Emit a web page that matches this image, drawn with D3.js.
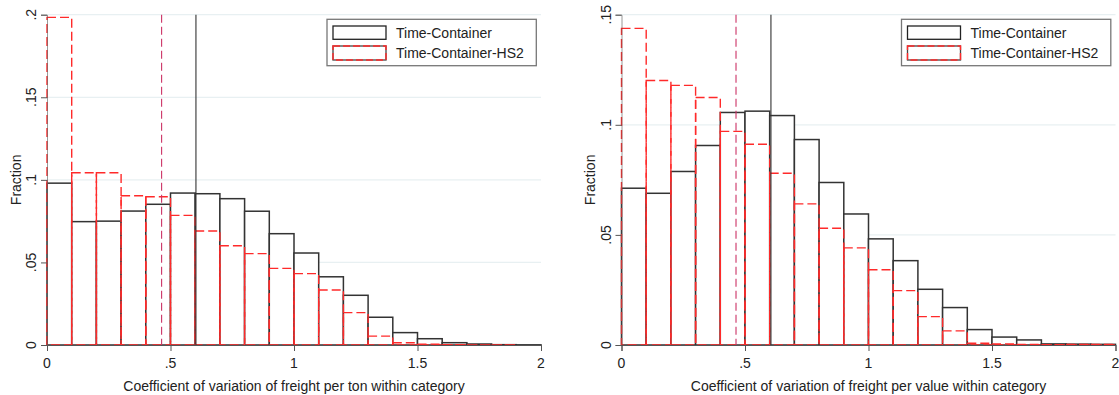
<!DOCTYPE html>
<html>
<head>
<meta charset="utf-8">
<script src="https://cdnjs.cloudflare.com/ajax/libs/d3/7.8.5/d3.min.js"></script>
<style>
  body { margin: 0; background: #fff; }
  svg { display: block; font-family: "Liberation Sans", Arial, sans-serif; }
</style>
</head>
<body>
<svg id="chart" width="1119" height="395"></svg>
<script>
// histogram bins (start of each 0.1-wide bin)
const binStarts = [0, 0.1, 0.2, 0.3, 0.4, 0.5, 0.6, 0.7, 0.8, 0.9, 1.0, 1.1, 1.2, 1.3, 1.4, 1.5, 1.6, 1.7, 1.8, 1.9];
const binWidth = 0.1;

// freight per ton
const tonContainer = [0.098, 0.0747, 0.075, 0.0811, 0.0852, 0.092, 0.0916, 0.0886, 0.081, 0.0674, 0.0557, 0.0413, 0.0301, 0.0168, 0.0075, 0.0038, 0.0014, 0.0006, 0.0002, 0.0001];
const tonHS2 = [0.1984, 0.1043, 0.1043, 0.0904, 0.0898, 0.0785, 0.069, 0.0601, 0.0553, 0.0464, 0.0432, 0.0333, 0.0196, 0.0054, 0.0014, 0.0005, 0.0002, 0.0001, 0.0001, 0];
const tonMedians = { container: 0.603, hs2: 0.464 };

// freight per value
const valueContainer = [0.0712, 0.0689, 0.0788, 0.0906, 0.1056, 0.1062, 0.1042, 0.0933, 0.0738, 0.0595, 0.0482, 0.0383, 0.0253, 0.017, 0.007, 0.0036, 0.0023, 0.0005, 0.0004, 0.0003];
const valueHS2 = [0.1438, 0.1201, 0.1179, 0.1124, 0.097, 0.0912, 0.078, 0.0641, 0.053, 0.0441, 0.0342, 0.0247, 0.0129, 0.0064, 0.0008, 0.0005, 0.0002, 0.0001, 0.0003, 0.0003];
const valueMedians = { container: 0.605, hs2: 0.4636 };

const xTicks = [0, 0.5, 1, 1.5, 2];
const tonYTicks = [0, 0.05, 0.1, 0.15, 0.2];
const valueYTicks = [0, 0.05, 0.1, 0.15];
const legendLabels = ['Time-Container', 'Time-Container-HS2'];

const RED = '#ff2a2a';
const fmt = v => v === 0 ? '0' : String(v).replace(/^0\./, '.');

const svg = d3.select('#chart');

function drawPanel(opts) {
  const x = d3.scaleLinear().domain([0, 2]).range([opts.left, opts.left + 494]);
  const y = d3.scaleLinear().domain([0, opts.yMax]).range([345, 14.7]);
  const g = svg.append('g');

  // gridlines
  g.append('g').selectAll('line')
    .data(opts.yTicks.filter(t => t > 0)).enter().append('line')
    .attr('x1', x(0)).attr('x2', x(2))
    .attr('y1', d => y(d)).attr('y2', d => y(d))
    .attr('stroke', '#e8f0f2').attr('stroke-width', 1.2);

  const containerBins = binStarts.map((b, i) => ({ b, v: opts.container[i] }));
  const hs2Bins = binStarts.map((b, i) => ({ b, v: opts.hs2[i] }));

  // Time-Container bars
  g.append('g').selectAll('rect')
    .data(containerBins).enter().append('rect')
    .attr('x', d => x(d.b)).attr('width', d => x(d.b + binWidth) - x(d.b))
    .attr('y', d => y(d.v)).attr('height', d => y(0) - y(d.v))
    .attr('fill', '#fff').attr('stroke', '#333').attr('stroke-width', 1.5);

  // Time-Container-HS2 bars
  g.append('g').selectAll('rect')
    .data(hs2Bins).enter().append('rect')
    .attr('x', d => x(d.b)).attr('width', d => x(d.b + binWidth) - x(d.b))
    .attr('y', d => y(d.v)).attr('height', d => y(0) - y(d.v))
    .attr('fill', 'none').attr('stroke', RED).attr('stroke-width', 1.4)
    .attr('stroke-dasharray', '9,4');

  // median lines
  g.append('line')
    .attr('x1', x(opts.medians.hs2)).attr('x2', x(opts.medians.hs2))
    .attr('y1', y(opts.yMax)).attr('y2', y(0))
    .attr('stroke', '#cc3366').attr('stroke-width', 1.1).attr('stroke-dasharray', '8,4');
  g.append('line')
    .attr('x1', x(opts.medians.container)).attr('x2', x(opts.medians.container))
    .attr('y1', y(opts.yMax)).attr('y2', y(0))
    .attr('stroke', '#333').attr('stroke-width', 1.1);

  // axes
  const yAxis = g.append('g').attr('transform', `translate(${x(0)},0)`)
    .call(d3.axisLeft(y).tickValues(opts.yTicks).tickSize(6).tickFormat(''));
  yAxis.select('.domain').attr('stroke', '#555').attr('stroke-opacity', 0.6);
  yAxis.selectAll('.tick line').attr('stroke', '#555');
  g.append('g').selectAll('text')
    .data(opts.yTicks).enter().append('text')
    .attr('transform', d => `translate(${x(0) - 11},${y(d)}) rotate(-90)`)
    .attr('text-anchor', 'middle').attr('font-size', 14).attr('fill', '#222')
    .text(fmt);

  const xAxis = g.append('g').attr('transform', `translate(0,${y(0)})`)
    .call(d3.axisBottom(x).tickValues(xTicks).tickSize(6).tickFormat(''));
  xAxis.select('.domain').attr('stroke', '#555');
  xAxis.selectAll('.tick line').attr('stroke', '#555');
  g.append('g').selectAll('text')
    .data(xTicks).enter().append('text')
    .attr('x', d => x(d)).attr('y', 368)
    .attr('text-anchor', 'middle').attr('font-size', 14).attr('fill', '#222')
    .text(fmt);

  g.append('text')
    .attr('x', (x(0) + x(2)) / 2).attr('y', 391)
    .attr('text-anchor', 'middle').attr('font-size', 14).attr('fill', '#222')
    .text(opts.xTitle);
  g.append('text')
    .attr('transform', `translate(${x(0) - 26.5},${(y(0) + y(opts.yMax)) / 2}) rotate(-90)`)
    .attr('text-anchor', 'middle').attr('font-size', 14).attr('fill', '#222')
    .text('Fraction');

  // legend
  const lx = x(2) - 4.7 - 209.3;
  const leg = g.append('g').attr('transform', `translate(${lx},19.3)`);
  leg.append('rect').attr('width', 209.3).attr('height', 46.4)
    .attr('fill', '#fff').attr('stroke', '#777').attr('stroke-width', 1.3);
  leg.append('rect').attr('x', 6).attr('y', 6.7).attr('width', 53).attr('height', 13.3)
    .attr('fill', '#fff').attr('stroke', '#222').attr('stroke-width', 1.3);
  leg.append('rect').attr('x', 6).attr('y', 26.7).attr('width', 53).attr('height', 14)
    .attr('fill', '#fff').attr('stroke', '#444').attr('stroke-width', 1.3);
  leg.append('rect').attr('x', 6).attr('y', 26.7).attr('width', 53).attr('height', 14)
    .attr('fill', 'none').attr('stroke', RED).attr('stroke-width', 1.4).attr('stroke-dasharray', '7,3');
  leg.selectAll('text.lab')
    .data(legendLabels).enter().append('text')
    .attr('class', 'lab')
    .attr('x', 69).attr('y', (d, i) => 19 + i * 20)
    .attr('font-size', 14).attr('fill', '#222')
    .text(d => d);
}

drawPanel({
  left: 47, yMax: 0.2, yTicks: tonYTicks,
  container: tonContainer, hs2: tonHS2, medians: tonMedians,
  xTitle: 'Coefficient of variation of freight per ton within category'
});
drawPanel({
  left: 621.5, yMax: 0.15, yTicks: valueYTicks,
  container: valueContainer, hs2: valueHS2, medians: valueMedians,
  xTitle: 'Coefficient of variation of freight per value within category'
});
</script>
</body>
</html>
